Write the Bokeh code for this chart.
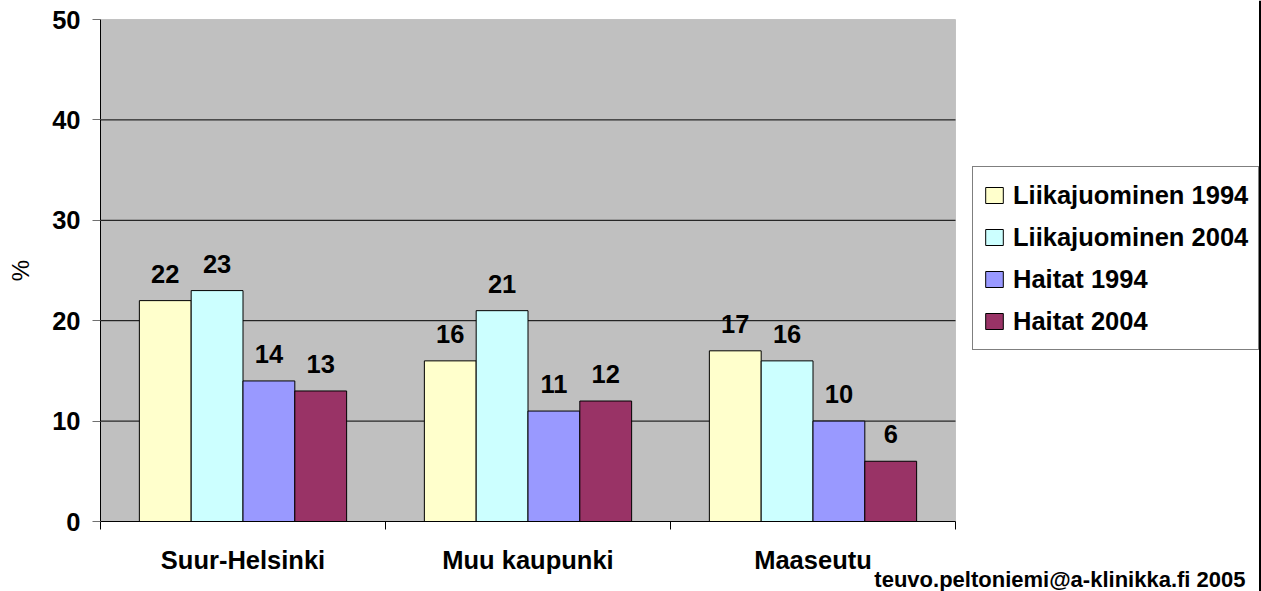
from bokeh.plotting import figure
from bokeh.models import (ColumnDataSource, LabelSet, Label, FixedTicker, Range1d,
                          BoxAnnotation, Span)
from bokeh.core.properties import value
from bokeh.embed import file_html
from bokeh.resources import INLINE

categories = ["Suur-Helsinki", "Muu kaupunki", "Maaseutu"]
series_names = ["Liikajuominen 1994", "Liikajuominen 2004", "Haitat 1994", "Haitat 2004"]
liikajuominen_1994 = [22, 16, 17]
liikajuominen_2004 = [23, 21, 16]
haitat_1994 = [14, 11, 10]
haitat_2004 = [13, 12, 6]
series_values = [liikajuominen_1994, liikajuominen_2004, haitat_1994, haitat_2004]
colors = ["#FFFFCC", "#CCFFFF", "#9999FF", "#993366"]
y_ticks = [0, 10, 20, 30, 40, 50]
footer = "teuvo.peltoniemi@a-klinikka.fi 2005"

FONT = "Liberation Sans"
FS = "25.5px"

W, H = 1261, 591
# plot area in pixels: x 100..955, y 19..521 (from top)
PX_X = 855 / 3.0
PX_Y = 502 / 50.0
ncat = len(categories)
ymax = y_ticks[-1]

p = figure(width=W, height=H, output_backend="svg", toolbar_location=None,
           x_range=Range1d(-100 / PX_X, ncat + (W - 955) / PX_X),
           y_range=Range1d(-(H - 521) / PX_Y, ymax + 19 / PX_Y),
           min_border=0)
p.min_border_left = 0
p.min_border_right = 0
p.min_border_top = 0
p.min_border_bottom = 0
p.background_fill_color = "white"
p.border_fill_color = "white"
p.outline_line_color = None

# plot area
p.add_layout(BoxAnnotation(left=0, right=ncat, bottom=0, top=ymax,
                           fill_color="#C0C0C0", fill_alpha=1,
                           line_color="#808080", line_width=1, level="underlay"))

# grid lines inside the plot area
grid_vals = y_ticks[1:-1]
p.segment(x0=[0] * len(grid_vals), x1=[ncat] * len(grid_vals), y0=grid_vals, y1=grid_vals,
          line_color="black", line_width=1)
p.xgrid.visible = False
p.ygrid.visible = False

bar_w = 1 / 5.5
offsets = [-1.5 * bar_w, -0.5 * bar_w, 0.5 * bar_w, 1.5 * bar_w]

for name, vals, col, off in zip(series_names, series_values, colors, offsets):
    xs = [i + 0.5 + off for i in range(ncat)]
    src = ColumnDataSource(dict(x=xs, top=vals, lab=[str(v) for v in vals]))
    p.vbar(x="x", top="top", width=bar_w, bottom=0, source=src, fill_color=col,
           line_color="black", line_width=1, legend_label=name)
    p.add_layout(LabelSet(x="x", y="top", text="lab", source=src, y_offset=18,
                          text_align="center", text_baseline="alphabetic",
                          text_font=value(FONT), text_font_size=value(FS),
                          text_font_style="bold", text_color="black"))

# y axis
ya = p.yaxis[0]
ya.fixed_location = 0
ya.bounds = (0, ymax)
ya.ticker = FixedTicker(ticks=y_ticks)
ya.axis_line_color = "black"
ya.major_tick_line_color = "#707070"
ya.major_tick_out = 8
ya.major_tick_in = 0
ya.minor_tick_line_color = None
ya.major_label_standoff = 12
ya.major_label_text_font = FONT
ya.major_label_text_font_size = FS
ya.major_label_text_font_style = "bold"
ya.major_label_text_color = "black"
ya.axis_label = "%"
ya.axis_label_text_font = FONT
ya.axis_label_text_font_size = "24px"
ya.axis_label_text_font_style = "normal"
ya.axis_label_text_color = "black"
ya.axis_label_standoff = 15

# x axis
xa = p.xaxis[0]
centers = [i + 0.5 for i in range(ncat)]
xa.fixed_location = 0
xa.bounds = (0, ncat)
xa.ticker = FixedTicker(ticks=centers, minor_ticks=list(range(ncat + 1)))
xa.major_label_overrides = {c: name for c, name in zip(centers, categories)}
xa.axis_line_color = "black"
xa.major_tick_line_color = None
xa.major_tick_out = 0
xa.major_tick_in = 0
xa.minor_tick_line_color = "black"
xa.minor_tick_out = 8
xa.minor_tick_in = 0
xa.major_label_standoff = 16
xa.major_label_text_font = FONT
xa.major_label_text_font_size = FS
xa.major_label_text_font_style = "bold"
xa.major_label_text_color = "black"

# legend
lg = p.legend[0]
lg.location = (972, H - 350)
lg.border_line_color = "black"
lg.border_line_width = 1
lg.background_fill_color = "white"
lg.background_fill_alpha = 1
lg.label_text_font = FONT
lg.label_text_font_size = FS
lg.label_text_font_style = "bold"
lg.label_text_color = "black"
lg.padding = 10
lg.margin = 0
lg.spacing = 6
lg.glyph_width = 22
lg.glyph_height = 20
lg.label_height = 36
lg.label_standoff = 8

# footer
p.add_layout(Label(x=1245, y=H - 579, x_units="screen", y_units="screen", text=footer,
                   text_align="right", text_baseline="alphabetic",
                   text_font=FONT, text_font_size="22px", text_font_style="bold",
                   text_color="black"))

# right border line of the chart area
p.add_layout(Span(location=1259.5, location_units="screen", dimension="height",
                  line_color="black", line_width=2))

open("out.html", "w").write(file_html(p, INLINE))
